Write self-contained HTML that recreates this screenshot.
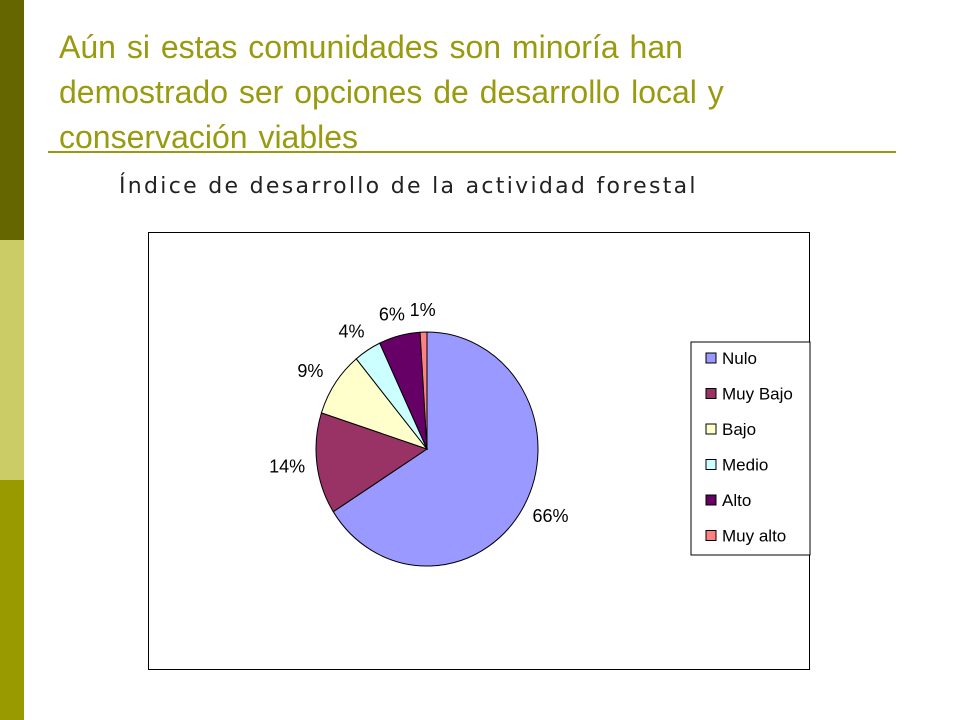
<!DOCTYPE html>
<html><head><meta charset="utf-8"><style>
body{margin:0;width:960px;height:720px;background:#fff;position:relative;overflow:hidden;font-family:"Liberation Sans",sans-serif}
.bar{position:absolute;left:0;width:24px}
#title{position:absolute;left:59px;top:25px;font-size:32px;line-height:45px;color:#999a10;width:770px;word-spacing:2px}
#rule{position:absolute;left:48px;top:151px;width:848px;height:2px;background:#999a10}
#sub{position:absolute;left:119px;top:174px;font-family:"DejaVu Sans",sans-serif;font-size:22px;letter-spacing:2.3px;color:#222}
#chart{position:absolute;left:148px;top:232px;width:660px;height:436px;border:1px solid #000}
svg{position:absolute;left:0;top:0}
</style></head><body>
<div class="bar" style="top:0;height:240px;background:#666600"></div>
<div class="bar" style="top:240px;height:240px;background:#cccc66"></div>
<div class="bar" style="top:480px;height:240px;background:#999900"></div>
<div id="title">Aún si estas comunidades son minoría han demostrado ser opciones de desarrollo local y conservación viables</div>
<div id="rule"></div>
<div id="sub">Índice de desarrollo de la actividad forestal</div>
<div id="chart"></div>
<svg id="svg" width="960" height="720"></svg>
<script>
const categories=["Nulo","Muy Bajo","Bajo","Medio","Alto","Muy alto"];
const values=[66,14,9,4,6,1];
const labels=["66%","14%","9%","4%","6%","1%"];
const colors=["#9999ff","#993366","#ffffcc","#ccffff","#660066","#ff8080"];
const svg=document.getElementById('svg');const NS="http://www.w3.org/2000/svg";
const cx=427,cy=449,rx=111,ry=117;
const total=values.reduce((a,b)=>a+b,0);
let acc=0;
function pt(a,sx,sy){return [cx+sx*Math.sin(a),cy-sy*Math.cos(a)];}
values.forEach((v,i)=>{
  const a0=acc/total*2*Math.PI;acc+=v;const a1=acc/total*2*Math.PI;
  const p0=pt(a0,rx,ry),p1=pt(a1,rx,ry);
  const p=document.createElementNS(NS,'path');
  p.setAttribute('d',`M${cx},${cy}L${p0[0]},${p0[1]}A${rx},${ry} 0 ${a1-a0>Math.PI?1:0} 1 ${p1[0]},${p1[1]}Z`);
  p.setAttribute('fill',colors[i]);p.setAttribute('stroke','#000');p.setAttribute('stroke-width','1');
  
  
  svg.appendChild(p);
  const am=(a0+a1)/2;const lp=pt(am,rx+30,ry+22);
  const t=document.createElementNS(NS,'text');
  t.setAttribute('x',lp[0]);t.setAttribute('y',lp[1]+6);t.setAttribute('text-anchor','middle');
  t.setAttribute('font-size','18');t.setAttribute('font-family','Liberation Sans, sans-serif');
  t.textContent=labels[i];
  
  
  svg.appendChild(t);
});
const lg=document.createElementNS(NS,'rect');
lg.setAttribute('x',691);lg.setAttribute('y',342);lg.setAttribute('width',119);lg.setAttribute('height',213);
lg.setAttribute('fill','#fff');lg.setAttribute('stroke','#000');


svg.appendChild(lg);
categories.forEach((c,i)=>{
  const y=358+i*35.5;
  const r=document.createElementNS(NS,'rect');
  r.setAttribute('x',706);r.setAttribute('y',y-5);r.setAttribute('width',10);r.setAttribute('height',10);
  r.setAttribute('fill',colors[i]);r.setAttribute('stroke','#000');
  
  
  svg.appendChild(r);
  const t=document.createElementNS(NS,'text');
  t.setAttribute('x',722);t.setAttribute('y',y+6);t.setAttribute('font-size','17');
  t.setAttribute('font-family','Liberation Sans, sans-serif');t.textContent=c;
  
  
  svg.appendChild(t);
});
</script>
</body></html>
